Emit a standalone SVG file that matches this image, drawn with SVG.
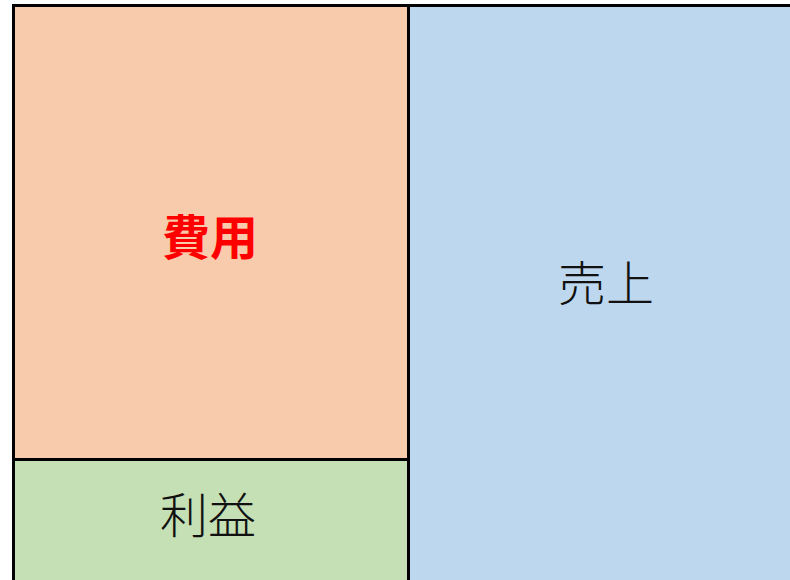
<svg xmlns="http://www.w3.org/2000/svg" width="790" height="580" viewBox="0 0 790 580">
<style>
.box{stroke:#000;stroke-width:3}
.lbl{font-family:"Noto Sans CJK JP","Noto Sans CJK SC",sans-serif;font-size:48px;text-anchor:middle;dominant-baseline:central}
</style>
<rect width="790" height="580" fill="#fff"/>
<g id="sales">
<rect class="box" x="408.5" y="5.5" width="400" height="590" fill="#BDD7EE"/>
<text class="lbl" x="606" y="280" fill="#111" font-weight="300">売上</text>
</g>
<g id="cost">
<rect class="box" x="13.5" y="5.5" width="395" height="454" fill="#F8CBAD"/>
<text class="lbl" x="210" y="234" fill="#FF0000" font-weight="bold">費用</text>
</g>
<g id="profit">
<rect class="box" x="13.5" y="459.5" width="395" height="140" fill="#C5E0B4"/>
<text class="lbl" x="208" y="512" fill="#111" font-weight="300">利益</text>
</g>
<g id="connectors"></g>
</svg>
